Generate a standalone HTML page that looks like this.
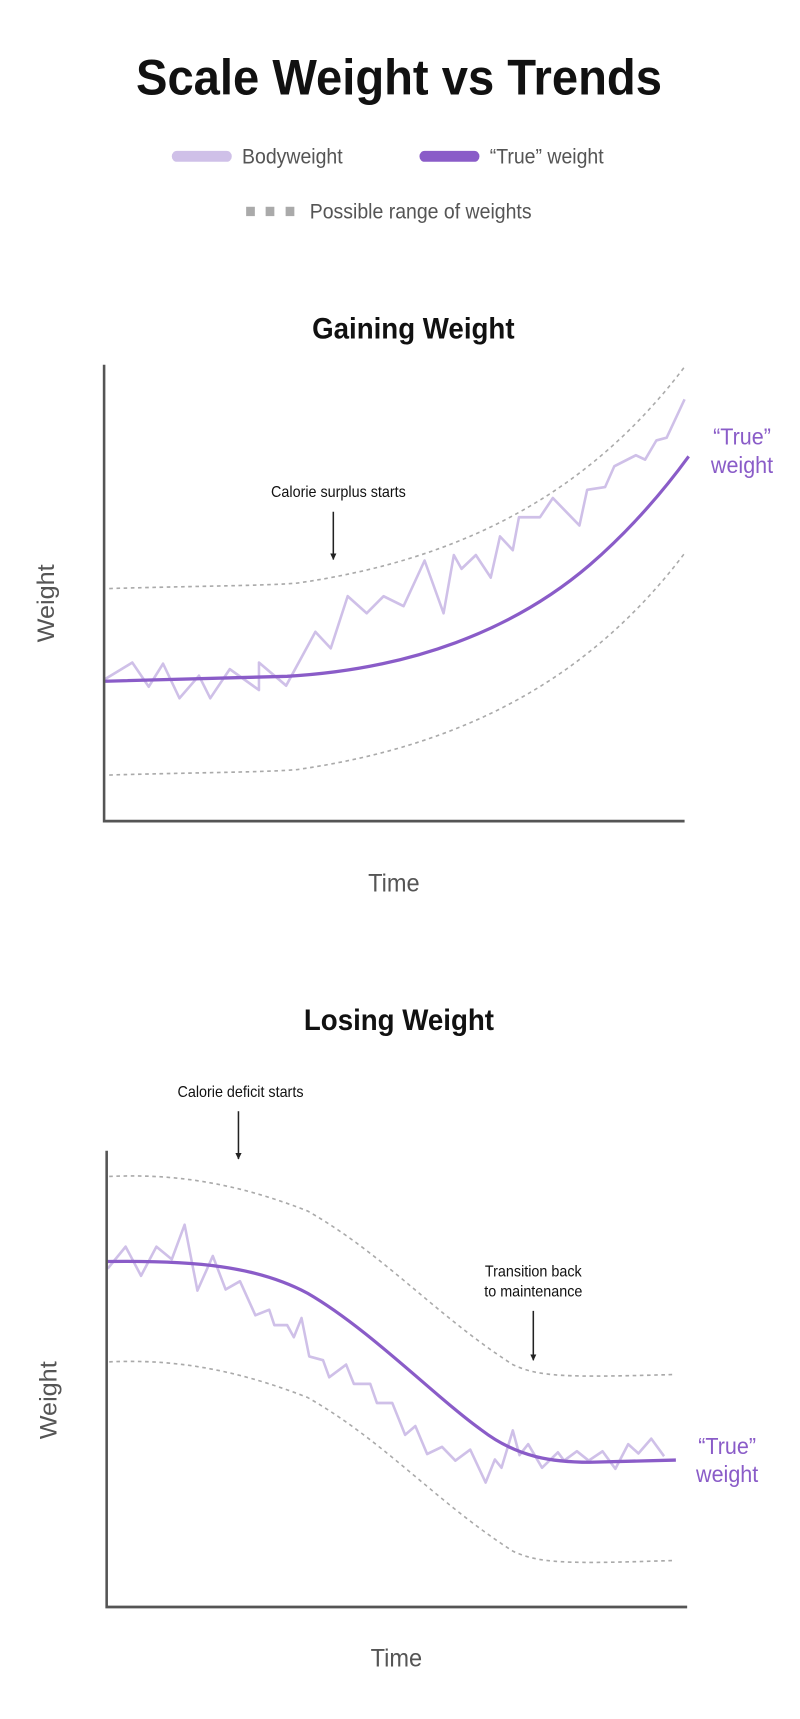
<!DOCTYPE html>
<html><head><meta charset="utf-8"><style>
html,body{margin:0;padding:0;background:#fff;}
svg{display:block;}
text{font-family:"Liberation Sans",sans-serif;}
</style></head><body>
<svg width="800" height="1719" viewBox="0 0 800 1719" xmlns="http://www.w3.org/2000/svg">
<defs><marker id="ah" viewBox="0 0 10 10" refX="9" refY="5" markerWidth="4" markerHeight="4" orient="auto"><path d="M0,0 L10,5 L0,10 z" fill="#222"/></marker></defs>
<g transform="scale(0.5128,0.5485)">
<text x="778" y="172" font-size="92" font-weight="bold" text-anchor="middle" fill="#111">Scale Weight vs Trends</text>
<line x1="345" y1="285" x2="442" y2="285" stroke="#cfc0e8" stroke-width="20" stroke-linecap="round"/>
<text x="472" y="298" font-size="38" fill="#555">Bodyweight</text>
<line x1="828" y1="285" x2="925" y2="285" stroke="#8a5cc8" stroke-width="20" stroke-linecap="round"/>
<text x="955" y="298" font-size="38" fill="#555">“True” weight</text>
<rect x="480" y="377" width="17" height="17" fill="#aaa"/><rect x="518" y="377" width="17" height="17" fill="#aaa"/><rect x="557" y="377" width="17" height="17" fill="#aaa"/>
<text x="604" y="398" font-size="38" fill="#555">Possible range of weights</text>
<text x="806" y="617" font-size="54" font-weight="bold" text-anchor="middle" fill="#111">Gaining Weight</text>
<path d="M213,1073 C400,1068 520,1068 580,1063 C900,1020 1150,900 1338,665" fill="none" stroke="#aaa" stroke-width="3" stroke-dasharray="7 7"/>
<path d="M213,1413 C400,1408 520,1408 580,1403 C900,1360 1150,1240 1338,1005" fill="none" stroke="#aaa" stroke-width="3" stroke-dasharray="7 7"/>
<polyline points="205,1238 258,1208 290,1252 318,1210 350,1273 388,1232 410,1273 448,1220 505,1258 505,1208 558,1250 615,1152 645,1182 678,1087 715,1118 748,1087 787,1105 828,1022 865,1118 885,1012 900,1037 928,1012 957,1053 975,978 1000,1003 1012,943 1053,943 1078,908 1130,958 1145,893 1180,888 1198,850 1240,830 1258,838 1280,803 1300,798 1335,728" fill="none" stroke="#cfc0e8" stroke-width="5" stroke-linejoin="round"/>
<path d="M205,1242 L560,1233 C800,1220 1000,1150 1150,1030 C1230,965 1290,900 1343,832" fill="none" stroke="#8a5cc8" stroke-width="6"/>
<polyline points="203,665 203,1497 1335,1497" fill="none" stroke="#555" stroke-width="5"/>
<text x="105" y="1100" font-size="46" fill="#555" text-anchor="middle" transform="rotate(-90 105 1100)">Weight</text>
<text x="768" y="1625" font-size="46" fill="#555" text-anchor="middle">Time</text>
<text x="660" y="906" font-size="28" fill="#111" text-anchor="middle">Calorie surplus starts</text>
<line x1="650" y1="933" x2="650" y2="1020" stroke="#222" stroke-width="3" marker-end="url(#ah)"/>
<text x="1447" y="810" font-size="42" fill="#8a5cc8" text-anchor="middle">“True”</text>
<text x="1447" y="862" font-size="42" fill="#8a5cc8" text-anchor="middle">weight</text>
</g>
<g transform="translate(0,860) scale(0.5128,0.5485)">
<text x="778" y="310" font-size="54" font-weight="bold" text-anchor="middle" fill="#111">Losing Weight</text>
<text x="469" y="432" font-size="28" fill="#111" text-anchor="middle">Calorie deficit starts</text>
<line x1="465" y1="458" x2="465" y2="545" stroke="#222" stroke-width="3" marker-end="url(#ah)"/>
<path d="M213,577 C330,572 450,585 600,640 C750,720 850,830 1000,920 C1050,942 1100,944 1315,938" fill="none" stroke="#aaa" stroke-width="3" stroke-dasharray="7 7"/>
<path d="M213,915 C330,910 450,925 600,980 C750,1060 850,1170 1000,1260 C1050,1282 1100,1284 1315,1277" fill="none" stroke="#aaa" stroke-width="3" stroke-dasharray="7 7"/>
<polyline points="210,745 245,705 275,758 305,705 335,728 360,665 385,785 415,722 440,783 468,768 498,830 525,820 535,848 560,848 573,870 588,835 603,905 630,912 642,943 675,920 690,955 722,955 735,990 765,990 790,1048 810,1032 833,1083 862,1070 888,1095 917,1075 947,1135 965,1093 978,1108 1000,1040 1013,1085 1030,1065 1057,1108 1088,1080 1100,1095 1125,1078 1148,1095 1175,1078 1200,1110 1225,1065 1245,1082 1270,1055 1295,1087" fill="none" stroke="#cfc0e8" stroke-width="5" stroke-linejoin="round"/>
<path d="M210,732 C380,730 500,740 600,790 C720,855 850,980 940,1040 C1010,1090 1080,1098 1150,1098 L1318,1094" fill="none" stroke="#8a5cc8" stroke-width="6"/>
<polyline points="208,530 208,1362 1340,1362" fill="none" stroke="#555" stroke-width="5"/>
<text x="110" y="985" font-size="46" fill="#555" text-anchor="middle" transform="rotate(-90 110 985)">Weight</text>
<text x="773" y="1470" font-size="46" fill="#555" text-anchor="middle">Time</text>
<text x="1040" y="759" font-size="28" fill="#111" text-anchor="middle">Transition back</text>
<text x="1040" y="796" font-size="28" fill="#111" text-anchor="middle">to maintenance</text>
<line x1="1040" y1="822" x2="1040" y2="912" stroke="#222" stroke-width="3" marker-end="url(#ah)"/>
<text x="1418" y="1083" font-size="42" fill="#8a5cc8" text-anchor="middle">“True”</text>
<text x="1418" y="1134" font-size="42" fill="#8a5cc8" text-anchor="middle">weight</text>
</g>
</svg>
</body></html>
